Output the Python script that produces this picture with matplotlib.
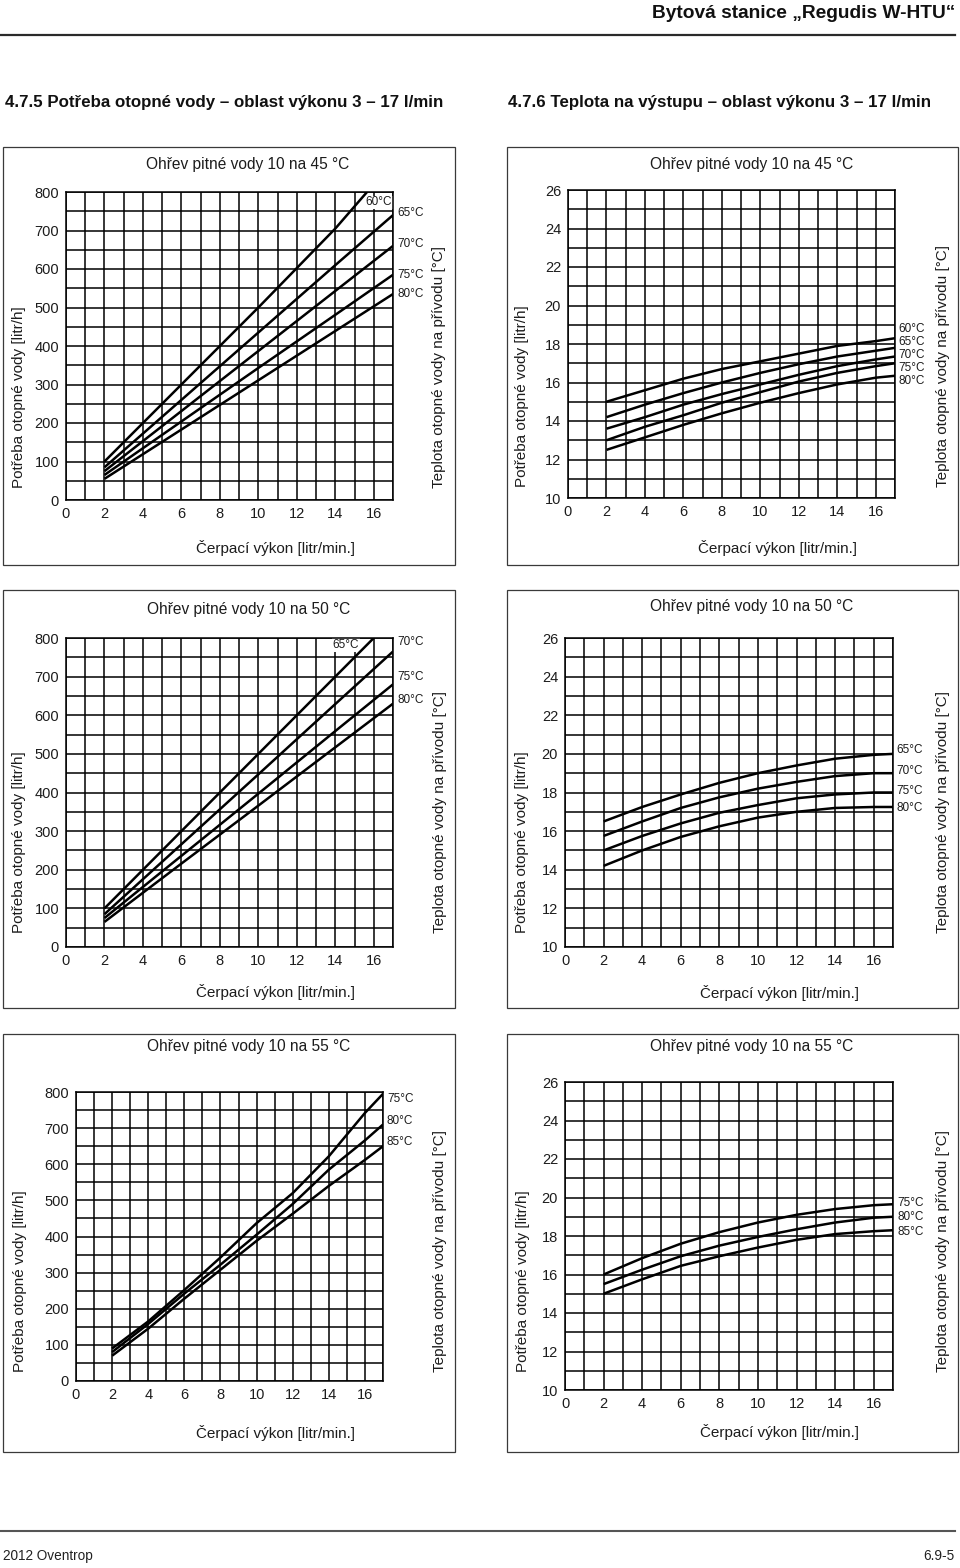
import matplotlib
matplotlib.use("Agg")
import matplotlib.pyplot as plt
from matplotlib import font_manager
from matplotlib.patches import Rectangle
from matplotlib.lines import Line2D

W, H = 960, 1568

# --- data ------------------------------------------------------------------
# flow [l/min] where values were read
x_q = [2, 6, 10, 14, 17]
x_t = [2, 4, 6, 8, 10, 12, 14, 16, 17]

# 10 -> 45 °C : heating water demand [l/h]
q45_names = ['60°C', '65°C', '70°C', '75°C', '80°C']
q45_x60 = [2, 6, 10, 14, 15.65]
q45_60 = [100, 300, 500, 705, 800]
q45_65 = [85, 260, 435, 610, 740]
q45_70 = [75, 231, 387, 543, 660]
q45_75 = [65, 204, 343, 481, 585]
q45_80 = [55, 183, 311, 439, 535]

# 10 -> 45 °C : return temperature [°C]
t45_names = ['60°C', '65°C', '70°C', '75°C', '80°C']
t45_60 = [15.0, 15.6, 16.2, 16.7, 17.1, 17.5, 17.9, 18.15, 18.3]
t45_65 = [14.2, 14.85, 15.45, 16.0, 16.5, 16.95, 17.35, 17.65, 17.8]
t45_70 = [13.6, 14.2, 14.85, 15.4, 15.9, 16.4, 16.85, 17.2, 17.35]
t45_75 = [13.0, 13.7, 14.3, 14.95, 15.5, 16.05, 16.5, 16.85, 17.0]
t45_80 = [12.5, 13.15, 13.8, 14.4, 14.95, 15.45, 15.9, 16.25, 16.35]

# 10 -> 50 °C : heating water demand [l/h]
q50_names = ['65°C', '70°C', '75°C', '80°C']
q50_x65 = [2, 6, 10, 14, 16]
q50_65 = [100, 300, 500, 700, 800]
q50_70 = [85, 266, 447, 629, 765]
q50_75 = [75, 236, 397, 559, 680]
q50_80 = [65, 216, 366, 517, 630]

# 10 -> 50 °C : return temperature [°C]
t50_names = ['65°C', '70°C', '75°C', '80°C']
t50_65 = [16.5, 17.25, 17.9, 18.5, 19.0, 19.4, 19.75, 19.95, 20.0]
t50_70 = [15.75, 16.5, 17.2, 17.75, 18.2, 18.55, 18.85, 19.0, 19.0]
t50_75 = [15.0, 15.75, 16.4, 16.95, 17.35, 17.7, 17.9, 18.0, 18.0]
t50_80 = [14.2, 15.0, 15.7, 16.25, 16.7, 17.0, 17.2, 17.25, 17.25]

# 10 -> 55 °C : heating water demand [l/h]
q55_names = ['75°C', '80°C', '85°C']
q55_75 = [90, 165, 252, 342, 437, 520, 622, 742, 795]
q55_80 = [80, 158, 242, 322, 405, 490, 585, 666, 710]
q55_85 = [70, 145, 228, 308, 388, 463, 540, 612, 650]

# 10 -> 55 °C : return temperature [°C]
t55_names = ['75°C', '80°C', '85°C']
t55_75 = [16.0, 16.85, 17.6, 18.2, 18.7, 19.1, 19.4, 19.6, 19.65]
t55_80 = [15.5, 16.25, 16.95, 17.5, 17.95, 18.35, 18.7, 18.95, 19.0]
t55_85 = [15.0, 15.75, 16.45, 16.95, 17.4, 17.8, 18.1, 18.25, 18.3]

# --- fonts -----------------------------------------------------------------
installed = {f.name for f in font_manager.fontManager.ttflist}
NARROW = 'Liberation Sans Narrow' if 'Liberation Sans Narrow' in installed else 'Liberation Sans'
narrow_ok = NARROW == 'Liberation Sans Narrow'
plt.rcParams['font.family'] = ['Liberation Sans', 'DejaVu Sans']
INK = '#1c1c1c'

fig = plt.figure(figsize=(W / 100, H / 100), dpi=100)


def fx(px):
    return px / W


def fy(py):
    return 1 - py / H


def panel(axpx, boxpx, title, title_x, title_y, xl, yl, yr, temp, series, names, lab):
    l, t, r, b = boxpx
    fig.patches.append(Rectangle((fx(l), fy(b)), fx(r - l), (b - t) / H, fill=False,
                                 ec='#3a3a3a', lw=0.9, transform=fig.transFigure))
    l, t, r, b = axpx
    ax = fig.add_axes([fx(l), fy(b), fx(r - l), (b - t) / H])
    ax.set_xlim(0, 17)
    ax.set_xticks(range(0, 17, 2))
    ax.set_xticks(range(0, 18), minor=True)
    if temp:
        ax.set_ylim(10, 26)
        ax.set_yticks(range(10, 27, 2))
        ax.set_yticks(range(10, 27), minor=True)
    else:
        ax.set_ylim(0, 800)
        ax.set_yticks(range(0, 801, 100))
        ax.set_yticks(range(0, 801, 50), minor=True)
    ax.grid(which='both', color='black', lw=1.1)
    ax.set_axisbelow(True)
    ax.tick_params(which='both', length=0, labelsize=10.5, colors=INK, pad=5)
    for s in ax.spines.values():
        s.set_linewidth(1.1)
    for (xs, ys) in series:
        ax.plot(xs, ys, color='black', lw=1.8, solid_capstyle='butt')
    for name, (lx, ly, inside) in zip(names, lab):
        if inside:
            ax.text(lx, ly, name, ha='center', va='center', fontsize=8.5, color=INK,
                    bbox=dict(fc='white', ec='none', pad=0.5), zorder=1.5)
        else:
            ax.text(lx, ly, name, ha='left', va='center', fontsize=8.5, color=INK,
                    clip_on=False)
    fig.text(fx(title_x), fy(title_y), title, ha='center', va='center', fontsize=11.2, color=INK)
    fig.text(fx(xl[0]), fy(xl[1]), 'Čerpací výkon [litr/min.]', ha='center', va='center',
             fontsize=11, color=INK)
    fig.text(fx(yl[0]), fy(yl[1]), 'Potřeba otopné vody [litr/h]', rotation=90,
             ha='center', va='bottom', fontsize=11, color=INK)
    fig.text(fx(yr[0]), fy(yr[1]), 'Teplota otopné vody na přívodu [°C]', rotation=90,
             ha='center', va='bottom', fontsize=11, color=INK)
    return ax


panel((66, 192, 393, 500), (3, 147, 455, 565), 'Ohřev pitné vody 10 na 45 °C', 248, 165,
      (276, 548), (19, 488), (439, 488), False,
      [(q45_x60, q45_60), (x_q, q45_65), (x_q, q45_70), (x_q, q45_75), (x_q, q45_80)],
      q45_names,
      [(16.25, 773, True), (17.25, 745, False), (17.25, 665, False), (17.25, 584, False),
       (17.25, 535, False)])

panel((568, 190, 895, 498), (507, 147, 958, 565), 'Ohřev pitné vody 10 na 45 °C', 752, 164,
      (778, 548), (522, 487), (943, 487), True,
      [(x_t, t45_60), (x_t, t45_65), (x_t, t45_70), (x_t, t45_75), (x_t, t45_80)],
      t45_names,
      [(17.2, 18.78, False), (17.2, 18.1, False), (17.2, 17.43, False), (17.2, 16.75, False),
       (17.2, 16.1, False)])

panel((66, 638, 393, 947), (3, 590, 455, 1008), 'Ohřev pitné vody 10 na 50 °C', 249, 609,
      (276, 992), (19, 933), (440, 933), False,
      [(q50_x65, q50_65), (x_q, q50_70), (x_q, q50_75), (x_q, q50_80)],
      q50_names,
      [(14.55, 782, True), (17.25, 790, False), (17.25, 699, False), (17.25, 639, False)])

panel((565, 638, 893, 947), (507, 590, 958, 1008), 'Ohřev pitné vody 10 na 50 °C', 752, 606,
      (779, 993), (522, 933), (943, 933), True,
      [(x_t, t50_65), (x_t, t50_70), (x_t, t50_75), (x_t, t50_80)],
      t50_names,
      [(17.2, 20.2, False), (17.2, 19.1, False), (17.2, 18.07, False), (17.2, 17.2, False)])

panel((76, 1092, 383, 1381), (3, 1034, 455, 1452), 'Ohřev pitné vody 10 na 55 °C', 249, 1047,
      (276, 1433), (20, 1372), (440, 1372), False,
      [(x_t, q55_75), (x_t, q55_80), (x_t, q55_85)],
      q55_names,
      [(17.22, 781, False), (17.22, 720, False), (17.22, 662, False)])

panel((565, 1082, 893, 1390), (507, 1034, 958, 1452), 'Ohřev pitné vody 10 na 55 °C', 752, 1047,
      (779, 1432), (523, 1372), (943, 1372), True,
      [(x_t, t55_75), (x_t, t55_80), (x_t, t55_85)],
      t55_names,
      [(17.25, 19.7, False), (17.25, 19.0, False), (17.25, 18.2, False)])

# page header / footer
hsize = 14 if narrow_ok else 13.8
ssize = 12.5 if narrow_ok else 12.2
fig.text(fx(955), fy(13), 'Bytová stanice „Regudis W-HTU“', ha='right', va='center',
         fontsize=hsize, fontweight='bold', family=NARROW, color='#111111')
fig.add_artist(Line2D([0, fx(955)], [fy(35), fy(35)], color='#2a2a2a', lw=1.6,
                      transform=fig.transFigure))
fig.text(fx(5), fy(103), '4.7.5 Potřeba otopné vody – oblast výkonu 3 – 17 l/min',
         ha='left', va='center', fontsize=ssize, fontweight='bold', family=NARROW, color='#111111')
fig.text(fx(508), fy(103), '4.7.6 Teplota na výstupu – oblast výkonu 3 – 17 l/min',
         ha='left', va='center', fontsize=ssize, fontweight='bold', family=NARROW, color='#111111')
fig.add_artist(Line2D([0, fx(955)], [fy(1531), fy(1531)], color='#555555', lw=1.5,
                      transform=fig.transFigure))
fsize = 11 if narrow_ok else 9.8
fig.text(fx(3), fy(1556), '2012 Oventrop', ha='left', va='center', fontsize=fsize,
         family=NARROW, color='#222222')
fig.text(fx(954), fy(1556), '6.9-5', ha='right', va='center', fontsize=fsize,
         family=NARROW, color='#222222')

fig.savefig('out.png', dpi=100, facecolor='white')
